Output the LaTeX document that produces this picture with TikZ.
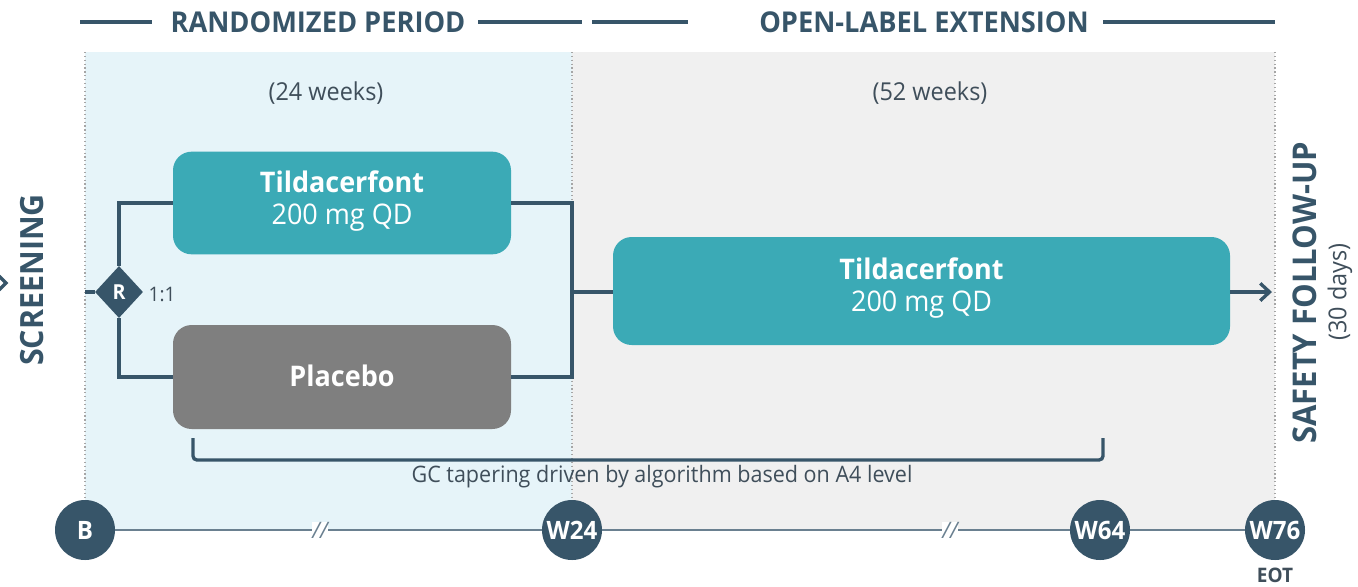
\documentclass[tikz,border=0pt]{standalone}
\usepackage{fontspec}
\setmainfont{Open Sans}
\newfontfamily\osb{Open Sans}[FakeStretch=0.95]
\usetikzlibrary{arrows.meta,shapes.geometric}
\definecolor{navy}{HTML}{375569}
\definecolor{teal}{HTML}{3BAAB6}
\definecolor{placebo}{HTML}{7F7F7F}
\definecolor{paleblue}{HTML}{E6F4F9}
\definecolor{palegray}{HTML}{F0F0F0}
\definecolor{txt}{HTML}{3F4E5A}
\definecolor{axis}{HTML}{6A8090}
\newcommand\fs[1]{\fontsize{#1}{#1}\selectfont}
\tikzset{
  armbox/.style={rounded corners=14, inner sep=0pt, text=white, align=center},
  armtext/.style={text=white, align=center, font=\osb\fontsize{21.3}{23.5}\selectfont},
  visit/.style={circle, fill=navy, minimum size=45pt, inner sep=0pt, text=white, font=\osb\bfseries\fs{19}},
  flow/.style={draw=navy, line width=2.5pt},
  divider/.style={draw=gray!70, line width=0.9pt, dotted},
  header/.style={font=\osb\bfseries\fs{21.5}, text=navy},
  hdrline/.style={draw=navy, line width=2.6pt},
  note/.style={font=\osb\fs{17}, text=txt},
}
\begin{document}
\begin{tikzpicture}[x=0.75pt, y=-0.75pt]
\useasboundingbox (0,0) rectangle (1358,586);
% period backgrounds
\fill[paleblue] (85,52) rectangle (572,530);
\fill[palegray] (572,52) rectangle (1275,530);
% period dividers
\draw[divider] (85,52) -- (85,505);
\draw[divider] (572,52) -- (572,505);
\draw[divider] (1275,52) -- (1275,505);
% headers
\node[header] (hrand) at (318,22) {RANDOMIZED PERIOD};
\node[header] (hole) at (924,22) {OPEN-LABEL EXTENSION};
\draw[hdrline] (80,22) -- (152,22);
\draw[hdrline] (478,22) -- (582,22);
\draw[hdrline] (592,22) -- (688,22);
\draw[hdrline] (1103,22) -- (1275,22);
\node[note, font=\osb\fs{18.5}] (w24lab) at (326,93) {(24 weeks)};
\node[note, font=\osb\fs{18.5}] (w52lab) at (930,93) {(52 weeks)};
% treatment arms
\node[armbox, fill=teal, minimum width=253.5pt, minimum height=77pt] (tilda) at (342,203) {};
\node[armtext] (tildatxt) at (342,201) {\textbf{Tildacerfont}\\200 mg QD};
\node[armbox, fill=placebo, minimum width=253.5pt, minimum height=78pt] (plac) at (342,377) {};
\node[armtext, font=\osb\bfseries\fs{21.3}] (plactxt) at (342,376) {Placebo};
\node[armbox, fill=teal, minimum width=462.75pt, minimum height=81pt] (ole) at (921.5,291) {};
\node[armtext] (oletxt) at (921.5,288) {\textbf{Tildacerfont}\\200 mg QD};
% randomization
\node[diamond, fill=navy, minimum width=36pt, minimum height=39pt, inner sep=0pt, text=white, font=\osb\bfseries\fs{15.5}] (rnd) at (119,292) {R};
\node[note, font=\osb\fs{15}, anchor=west] (ratio) at (144,294) {1:1};
\coordinate (scr) at (85,292);
\coordinate (join) at (572,292);
\draw[flow] (scr) -- (rnd.west);
\draw[flow] (rnd.north) |- (tilda.west);
\draw[flow] (rnd.south) |- (plac.west);
\draw[flow] (tilda.east) -| (join);
\draw[flow] (plac.east) -| (join);
\draw[flow] (join) -- (join -| ole.west);
\coordinate (fu) at (1272,292);
\draw[flow, -{Straight Barb[length=7pt, width=13pt, line width=2.5pt]}] (ole.east |- fu) -- (fu);
% screening and follow-up labels
\node[header, rotate=90, font=\osb\bfseries\fs{24}] (screen) at (32,280) {SCREENING};
\draw[navy, line width=2.5pt] (-1,276) -- (6,283) -- (-1,290);
\node[header, rotate=90, font=\osb\bfseries\fs{24.5}] (safety) at (1305,293) {SAFETY FOLLOW-UP};
\node[note, rotate=90, font=\osb\fs{18.5}] (days) at (1340,292) {(30 days)};
% glucocorticoid tapering bracket
\draw[navy, line width=2.5pt, rounded corners=3pt] (193,438) -- (193,460) -- (1103,460) -- (1103,438);
\node[note, font=\osb\fs{17}] (gc) at (662,477) {GC tapering driven by algorithm based on A4 level};
% timeline
\node[visit] (vB) at (85,530) {B};
\node[visit] (v24) at (572,530) {W24};
\node[visit] (v64) at (1100,530) {W64};
\node[visit] (v76) at (1275,530) {W76};
\draw[axis, line width=1.8pt] (vB) -- (v24) -- (v64) -- (v76);
\node[font=\osb\fs{17}\itshape, text=axis, fill=white, inner sep=0pt] (br1) at (320,530) {//};
\node[font=\osb\fs{17}\itshape, text=axis, fill=white, inner sep=0pt] (br2) at (950,530) {//};
\node[font=\osb\bfseries\fs{15}, text=txt] (eot) at (1275,575) {EOT};
\end{tikzpicture}
\end{document}
